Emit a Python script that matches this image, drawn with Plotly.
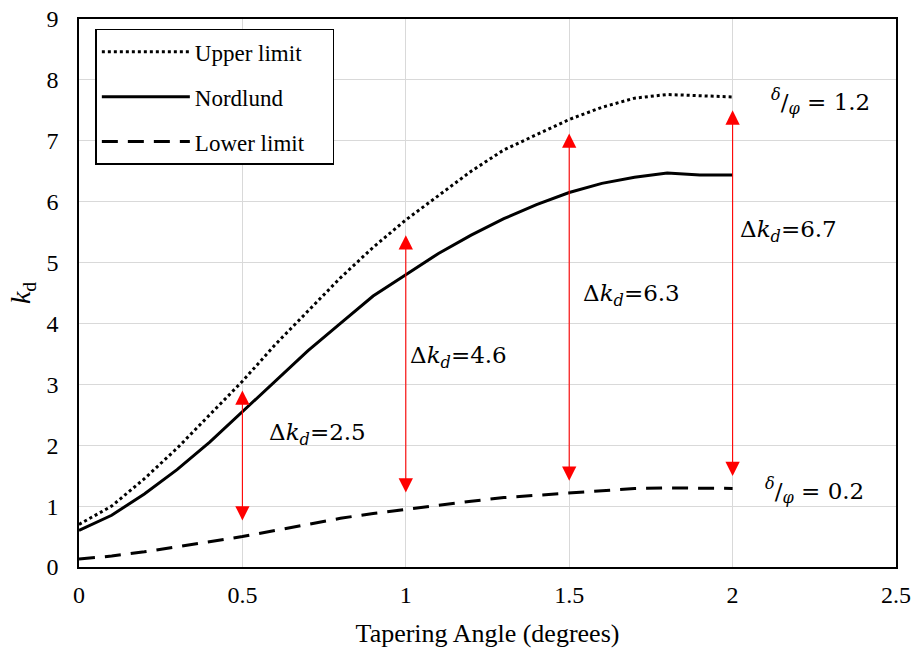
import plotly.graph_objects as go

angle = [0, 0.1, 0.2, 0.3, 0.4, 0.5, 0.6, 0.7, 0.8, 0.9, 1.0,
         1.1, 1.2, 1.3, 1.4, 1.5, 1.6, 1.7, 1.8, 1.9, 2.0]
upper = [0.7, 1.0, 1.45, 1.95, 2.5, 3.05, 3.65, 4.2, 4.75, 5.25, 5.7,
         6.1, 6.5, 6.85, 7.1, 7.35, 7.55, 7.7, 7.76, 7.74, 7.72]
nordlund = [0.6, 0.85, 1.2, 1.6, 2.05, 2.55, 3.05, 3.55, 4.0, 4.45, 4.8,
            5.15, 5.45, 5.72, 5.95, 6.15, 6.3, 6.4, 6.47, 6.44, 6.44]
lower = [0.13, 0.18, 0.25, 0.33, 0.41, 0.5, 0.6, 0.7, 0.8, 0.88, 0.95,
         1.02, 1.08, 1.14, 1.18, 1.22, 1.26, 1.29, 1.3, 1.29, 1.29]

arrow_x = [0.5, 1.0, 1.5, 2.0]
arrow_top = [2.9, 5.45, 7.12, 7.5]
arrow_bottom = [0.74, 1.2, 1.39, 1.47]
delta_vals = ["2.5", "4.6", "6.3", "6.7"]
delta_x = [0.73, 1.16, 1.69, 2.17]
delta_y = [2.19, 3.45, 4.47, 5.52]

ratio_labels = ["1.2", "0.2"]
ratio_x = [2.27, 2.25]
ratio_y = [7.64, 1.26]

serif = "Liberation Serif"
mathf = "DejaVu Serif"
pad = "\u00a0\u00a0\u00a0\u00a0"

fig = go.Figure()
fig.add_trace(go.Scatter(x=angle, y=upper, mode="lines", name="Upper limit" + pad,
                         legendgroup="a",
                         line=dict(color="black", width=3, dash="dot")))
fig.add_trace(go.Scatter(x=angle, y=nordlund, mode="lines", name="Nordlund",
                         legendgroup="b",
                         line=dict(color="black", width=3, dash="solid")))
fig.add_trace(go.Scatter(x=angle, y=lower, mode="lines", name="Lower limit" + pad,
                         legendgroup="c",
                         line=dict(color="black", width=3, dash="16px,10px")))

for xa, yt, yb in zip(arrow_x, arrow_top, arrow_bottom):
    fig.add_annotation(x=xa, y=yt, ax=xa, ay=yb, xref="x", yref="y",
                       axref="x", ayref="y", text="", showarrow=True,
                       arrowhead=2, startarrowhead=2, arrowside="end+start",
                       arrowsize=2.6, startarrowsize=2.6, arrowwidth=1.1,
                       arrowcolor="#ff0000")

for xv, yv, dv in zip(delta_x, delta_y, delta_vals):
    fig.add_annotation(x=xv, y=yv, xref="x", yref="y", showarrow=False,
                       text="Δ<i>k</i><sub><i>d</i></sub>=" + dv,
                       font=dict(family=mathf, size=23, color="black"))

for xv, yv, rv in zip(ratio_x, ratio_y, ratio_labels):
    fig.add_annotation(x=xv, y=yv, xref="x", yref="y", showarrow=False,
                       text="<sup><i>δ</i></sup>/<sub><i>φ</i></sub> = " + rv,
                       font=dict(family=mathf, size=23, color="black"))

fig.update_layout(
    width=912, height=651,
    margin=dict(l=79, r=16, t=19, b=84, autoexpand=False),
    paper_bgcolor="white", plot_bgcolor="white",
    font=dict(family=serif, size=23, color="black"),
    showlegend=True,
    legend=dict(x=0.02, y=0.982, xanchor="left", yanchor="top",
                bgcolor="white", bordercolor="black", borderwidth=1.5,
                font=dict(family=serif, size=23, color="black"),
                traceorder="grouped", itemwidth=88, tracegroupgap=12),
)
fig.update_xaxes(range=[0, 2.5], tickvals=[0, 0.5, 1, 1.5, 2, 2.5],
                 ticktext=["0", "0.5", "1", "1.5", "2", "2.5"],
                 tickfont=dict(family=serif, size=24), automargin=False,
                 showgrid=True, gridcolor="#d9d9d9", gridwidth=1,
                 showline=True, linecolor="black", linewidth=1.5, mirror=True,
                 ticks="", zeroline=False, ticklabelstandoff=5,
                 title=dict(text="Tapering Angle (degrees)",
                            font=dict(family=serif, size=26), standoff=17))
fig.update_yaxes(range=[0, 9], tickvals=list(range(10)),
                 tickfont=dict(family=serif, size=24), automargin=False,
                 showgrid=True, gridcolor="#d9d9d9", gridwidth=1,
                 showline=True, linecolor="black", linewidth=1.5, mirror=True,
                 ticks="", zeroline=False, ticklabelstandoff=14,
                 title=dict(text="<i>k</i><sub>d</sub>",
                            font=dict(family=serif, size=28), standoff=8))

fig.write_html("out.html")
